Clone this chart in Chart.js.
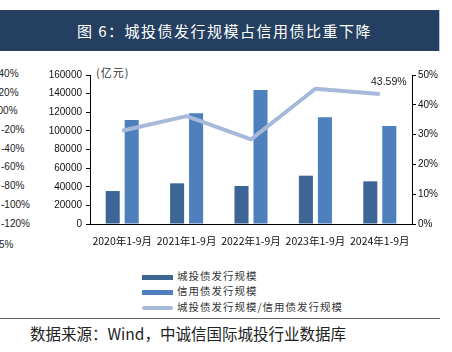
<!DOCTYPE html>
<html>
<head>
<meta charset="utf-8">
<script src="https://cdn.jsdelivr.net/npm/chart.js@4"></script>
<style>
  body { margin: 0; width: 452px; height: 352px; background: #fff; overflow: hidden; position: relative;
         font-family: "Noto Sans CJK SC", "Liberation Sans", sans-serif; }
  .abs { position: absolute; white-space: nowrap; }
  #titleBar { left: 0; top: 10px; width: 439px; height: 41px; background: #243f5f; border-right: 1px solid #b8c4d4; }
  #titleBar span { position: absolute; left: 0; right: 0; top: 10px; text-align: center; color: #fff; font-size: 15px; letter-spacing: 1.5px; padding-left: 10px; }
  #chartBox { left: 0; top: 60px; width: 452px; height: 188px; }
  .frag { font-family: "Liberation Sans", sans-serif; font-size: 10px; color: #222; }
  .leg { left: 142px; font-size: 10.5px; color: #333; letter-spacing: 1px; }
  .leg i { display: inline-block; width: 31px; vertical-align: middle; margin-right: 4px; }
</style>
</head>
<body>
<div id="titleBar" class="abs"><span>图 6：城投债发行规模占信用债比重下降</span></div>
<div id="frags"></div>
<div class="abs" style="left:96px;top:64px;font-size:11px;color:#333;letter-spacing:1px;">(亿元)</div>
<div id="chartBox" class="abs"><canvas id="c"></canvas></div>
<div id="legend"></div>
<div class="abs" style="left:0;top:318px;width:440px;height:1px;background:#666;"></div>
<div class="abs" style="left:30px;top:322px;font-size:15.5px;color:#222;">数据来源：Wind，中诚信国际城投行业数据库</div>
<script>
const categories = ['2020年1-9月', '2021年1-9月', '2022年1-9月', '2023年1-9月', '2024年1-9月'];
const chengtouIssue = [35400, 43700, 40800, 51900, 45800];
const creditIssue = [111600, 118800, 143900, 114500, 105200];
const ratio = [31.3, 36.2, 28.4, 45.4, 43.59];
const seriesNames = ['城投债发行规模', '信用债发行规模', '城投债发行规模/信用债发行规模'];
const seriesColors = ['#3d6697', '#4d80bd', '#a7b9da'];
// leftover labels of a neighbouring chart, cut at the left edge
const fragLabels = ['140%', '120%', '100%', '-20%', '-40%', '-60%', '-80%', '-100%', '-120%', '5%'];
const fragShift = [-7, -7, -8, 1, 1, 1, 1, 1, 1, -1];
const fragTops = [68, 87, 105, 124, 143, 161, 180, 199, 218, 239];

const frags = document.getElementById('frags');
fragLabels.forEach((t, i) => {
  const d = document.createElement('div');
  d.className = 'abs frag';
  d.style.left = fragShift[i] + 'px';
  d.style.top = fragTops[i] + 'px';
  d.textContent = t;
  frags.appendChild(d);
});

const legend = document.getElementById('legend');
const legTops = [268, 283, 299];
seriesNames.forEach((name, i) => {
  const d = document.createElement('div');
  d.className = 'abs leg';
  d.style.top = legTops[i] + 'px';
  const h = i === 2 ? 4 : 5;
  d.innerHTML = '<i style="height:' + h + 'px;background:' + seriesColors[i] + ';border-radius:' + (i === 2 ? 2 : 0) + 'px"></i>' + name;
  legend.appendChild(d);
});

const lastLabel = {
  id: 'lastLabel',
  afterDatasetsDraw(chart) {
    const meta = chart.getDatasetMeta(2);
    const pt = meta.data[meta.data.length - 1];
    const ctx = chart.ctx;
    ctx.save();
    ctx.font = '10.5px "Liberation Sans", sans-serif';
    ctx.fillStyle = '#222';
    ctx.textAlign = 'center';
    ctx.fillText(ratio[ratio.length - 1].toFixed(2) + '%', pt.x + 9, pt.y - 9);
    ctx.restore();
  }
};

const tickFont = { family: '"Liberation Sans", sans-serif', size: 10 };

new Chart(document.getElementById('c'), {
  type: 'bar',
  data: {
    labels: categories,
    datasets: [
      { label: seriesNames[0], data: chengtouIssue, backgroundColor: seriesColors[0], yAxisID: 'y', order: 2,
        barPercentage: 0.74, categoryPercentage: 0.59 },
      { label: seriesNames[1], data: creditIssue, backgroundColor: seriesColors[1], yAxisID: 'y', order: 2,
        barPercentage: 0.74, categoryPercentage: 0.59 },
      { type: 'line', label: seriesNames[2], data: ratio, borderColor: seriesColors[2], borderWidth: 4,
        borderJoinStyle: 'round', pointRadius: 0, tension: 0, yAxisID: 'y1', order: 1 }
    ]
  },
  options: {
    responsive: true,
    maintainAspectRatio: false,
    animation: false,
    layout: { padding: { top: 15, left: 0, right: 0, bottom: 0 } },
    plugins: { legend: { display: false }, tooltip: { enabled: false } },
    scales: {
      x: {
        grid: { display: false },
        border: { color: '#000', width: 1 },
        ticks: { color: '#111', font: { family: '"Noto Sans CJK SC", sans-serif', size: 10.5 }, maxRotation: 0, autoSkip: false, padding: 3 },
        afterFit(s) { s.height = 24; }
      },
      y: {
        position: 'left', min: 0, max: 160000,
        grid: { drawOnChartArea: false, tickLength: 4, color: '#000' },
        border: { color: '#000', width: 1 },
        ticks: { stepSize: 20000, color: '#111', font: tickFont, padding: 4, callback: v => String(v) },
        afterFit(s) { s.width = 90; }
      },
      y1: {
        position: 'right', min: 0, max: 50,
        grid: { drawOnChartArea: false, tickLength: 4, color: '#000' },
        border: { color: '#000', width: 1 },
        ticks: { stepSize: 10, color: '#111', font: tickFont, padding: 2, callback: v => v + '%' },
        afterFit(s) { s.width = 40; }
      }
    }
  },
  plugins: [lastLabel]
});
</script>
</body>
</html>
